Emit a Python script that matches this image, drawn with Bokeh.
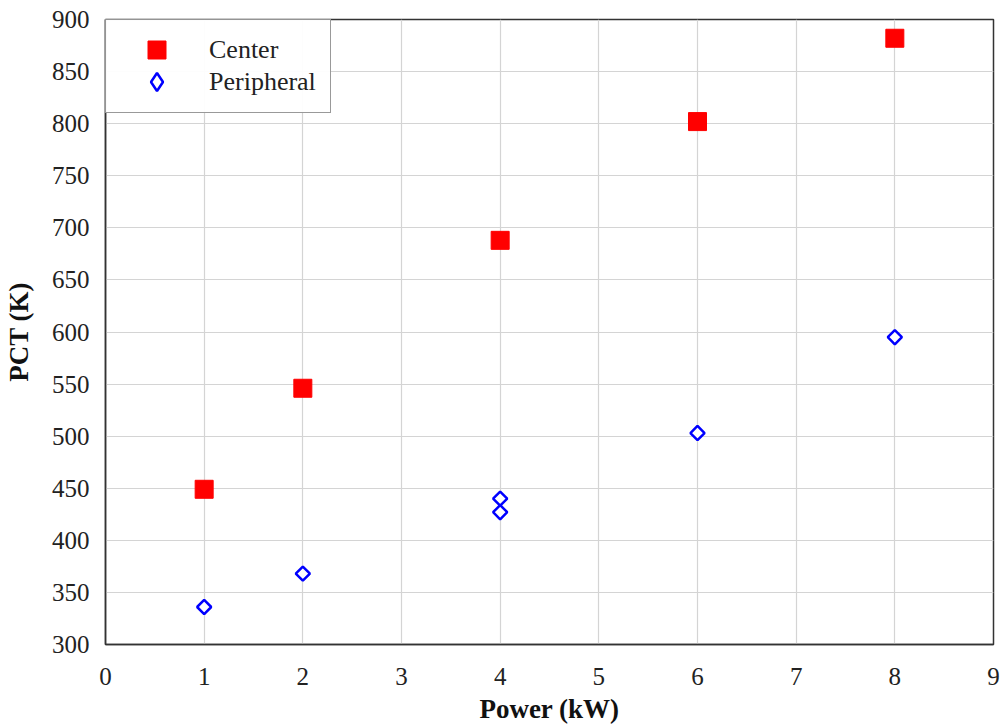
import numpy as np
from bokeh.plotting import figure
from bokeh.models import Range1d, FixedTicker, Legend, LegendItem
from bokeh.embed import file_html
from bokeh.resources import INLINE

power_center = [1, 2, 4, 6, 8]
pct_center = [449, 546, 688, 802, 882]
power_periph = [1, 2, 4, 4, 6, 8]
pct_periph = [336, 368, 440, 427, 503, 595]
x_ticks = [0, 1, 2, 3, 4, 5, 6, 7, 8, 9]
y_ticks = [300, 350, 400, 450, 500, 550, 600, 650, 700, 750, 800, 850, 900]

FONT = "Liberation Serif"

p = figure(width=1002, height=726, output_backend="svg", toolbar_location=None,
           x_range=Range1d(0, 9), y_range=Range1d(300, 900),
           min_border_left=105, min_border_right=9, min_border_top=19, min_border_bottom=81)
p.background_fill_color = "white"
p.border_fill_color = "white"
p.outline_line_color = "#333333"
p.outline_line_width = 1.5

r1 = p.scatter(power_center, pct_center, marker="square", size=18, fill_color="#ff0000",
               line_color="#ff0000")
r2 = p.scatter(power_periph, pct_periph, marker="square", angle=np.pi / 4, size=10,
               fill_color="white", line_color="#0000ff", line_width=2.5)
# hidden renderer used only to draw the diamond symbol in the legend
r2_leg = p.scatter(power_periph, pct_periph, marker="diamond", fill_color="white",
                   line_color="#0000ff", line_width=2.5, visible=False)
# transparent renderer for the framed label legend
r_blank = p.scatter(power_center, pct_center, marker="square", fill_alpha=0, line_alpha=0)

for ax in (p.xaxis[0], p.yaxis[0]):
    ax.major_tick_line_color = None
    ax.minor_tick_line_color = None
    ax.axis_line_color = "#333333"
    ax.axis_line_width = 1.5
    ax.major_label_text_font = FONT
    ax.major_label_text_font_size = "25px"
    ax.major_label_text_color = "#222222"
    ax.axis_label_text_font = FONT
    ax.axis_label_text_font_size = "27px"
    ax.axis_label_text_font_style = "bold"
    ax.axis_label_text_color = "#111111"

p.xaxis.ticker = FixedTicker(ticks=x_ticks)
p.yaxis.ticker = FixedTicker(ticks=y_ticks)
p.xaxis.axis_label = "Power (kW)"
p.yaxis.axis_label = "PCT (K)"
p.xaxis.major_label_standoff = 17
p.yaxis.major_label_standoff = 10
p.xaxis.axis_label_standoff = 6
p.yaxis.axis_label_standoff = 15

p.xgrid.ticker = FixedTicker(ticks=x_ticks)
p.ygrid.ticker = FixedTicker(ticks=y_ticks)
p.grid.grid_line_color = "#d4d4d4"
p.grid.grid_line_width = 1.2

# framed legend with the labels
lab = Legend(items=[LegendItem(label="Center", renderers=[r_blank]),
                    LegendItem(label="Peripheral", renderers=[r_blank])],
             location="top_left")
lab.margin = 0
lab.padding = 14
lab.spacing = 0
lab.label_text_font = FONT
lab.label_text_font_size = "26px"
lab.label_text_color = "#222222"
lab.border_line_color = "#333333"
lab.border_line_width = 1.5
lab.glyph_width = 74
lab.glyph_height = 32
lab.label_standoff = 15
lab.label_height = 22
lab.label_width = 100
p.add_layout(lab)

# glyph-only legends, larger symbols
def glyph_legend(renderer, loc):
    g = Legend(items=[LegendItem(label=" ", renderers=[renderer])], location=loc)
    g.margin = 0
    g.padding = 0
    g.glyph_width = 45
    g.glyph_height = 45
    g.label_standoff = 0
    g.label_width = 1
    g.label_height = 20
    g.border_line_color = None
    g.background_fill_alpha = 0
    return g

p.add_layout(glyph_legend(r1, (28.5, 572.5)))
p.add_layout(glyph_legend(r2_leg, (28.5, 540.5)))

open("out.html", "w").write(file_html(p, INLINE))
